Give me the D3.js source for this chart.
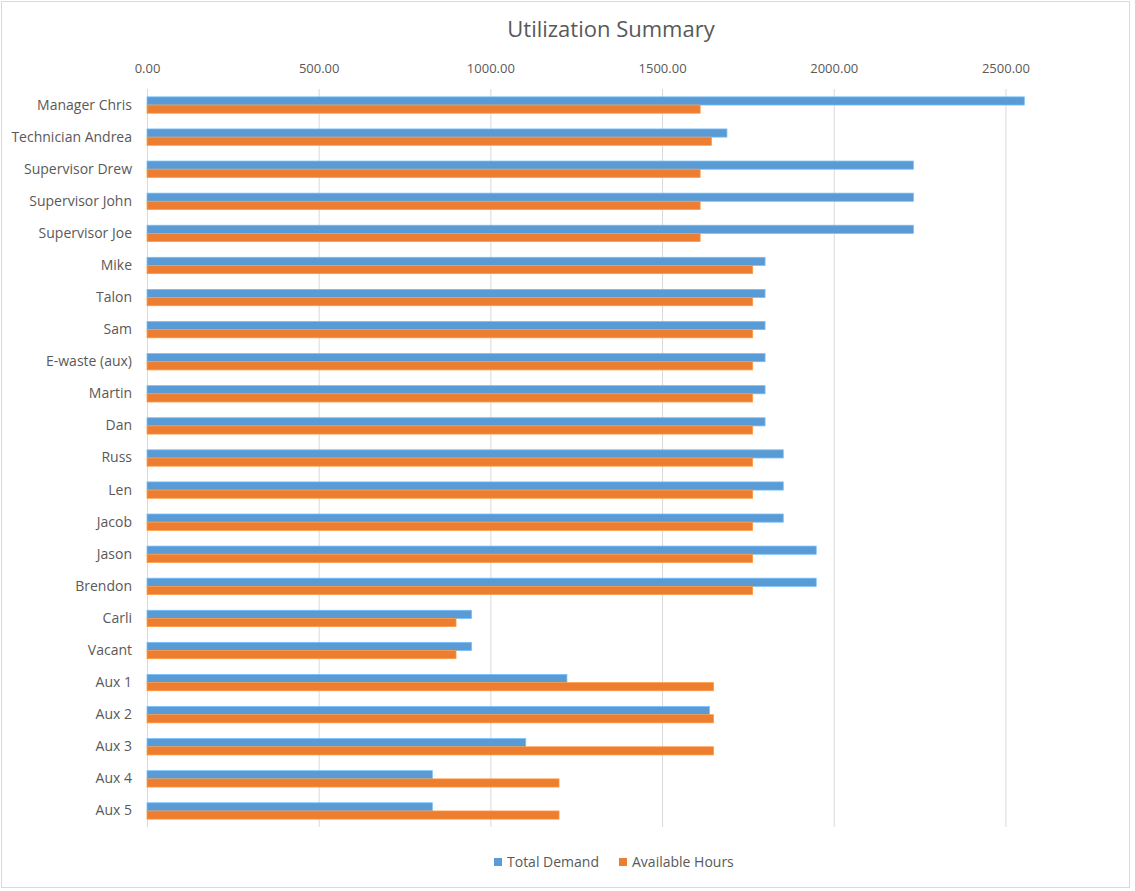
<!DOCTYPE html>
<html>
<head>
	<meta charset="utf-8" />
	<title>Utilization Summary</title>
	<script src="https://cdn.jsdelivr.net/npm/d3@7/dist/d3.min.js"></script>
	<style>
	body { margin: 0; background: #fff; font-family: 'Open Sans', sans-serif; }
	</style>
</head>
<body>
<svg id="chart" width="1135" height="891"></svg>
<script>

var v_Names = ["Manager Chris", "Technician Andrea", "Supervisor Drew", "Supervisor John", "Supervisor Joe",
               "Mike", "Talon", "Sam", "E-waste (aux)", "Martin", "Dan", "Russ", "Len", "Jacob",
               "Jason", "Brendon", "Carli", "Vacant", "Aux 1", "Aux 2", "Aux 3", "Aux 4", "Aux 5"];

var v_TotalDemand    = [2555, 1689, 2232, 2232, 2232, 1800, 1800, 1800, 1800, 1800, 1800, 1853, 1853, 1853,
                        1949, 1949, 945, 945, 1223, 1638, 1103, 831, 831];

var v_AvailableHours = [1611, 1644, 1611, 1611, 1611, 1764, 1764, 1764, 1764, 1764, 1764, 1764, 1764, 1764,
                        1764, 1764, 900, 900, 1650, 1650, 1650, 1200, 1200];

var v_Series = ["Total Demand", "Available Hours"];
var v_Ticks  = [0, 500, 1000, 1500, 2000, 2500];

var v_Colors = { "Total Demand": "#5B9BD5", "Available Hours": "#ED7D31" };

var m = { left: 147, right: 1025, top: 89, bottom: 827 };

var v_SVG = d3.select("#chart");

// 外框
v_SVG.append("rect")
.attr("x", 1.5).attr("y", 1.5)
.attr("width", 1128).attr("height", 886)
.attr("fill", "white")
.attr("stroke", "#D9D9D9");

var x = d3.scaleLinear().domain([0, 2557]).range([m.left, m.right]);

var y = d3.scaleBand().domain(v_Names).range([m.top, m.bottom]).paddingInner(0.49).paddingOuter(0.245);

var y2 = d3.scaleBand().domain(v_Series).range([0, y.bandwidth()]);

// gridlines
v_SVG.append("g").selectAll("line").data(v_Ticks).enter().append("line")
.attr("x1", function(d) { return x(d) + 0.5; })
.attr("x2", function(d) { return x(d) + 0.5; })
.attr("y1", m.top)
.attr("y2", m.bottom)
.attr("stroke", "#D9D9D9")
.attr("stroke-width", 1);

// top axis labels
var v_Axis = v_SVG.append("g")
.attr("transform", "translate(0," + (m.top - 16) + ")")
.call(d3.axisTop(x).tickValues(v_Ticks).tickFormat(d3.format(".2f")).tickSize(0).tickPadding(0));
v_Axis.select(".domain").remove();
v_Axis.selectAll("text")
.attr("font-family", "'Open Sans', sans-serif")
.attr("font-size", "13px")
.attr("fill", "#595959");

// category labels
var v_YAxis = v_SVG.append("g")
.attr("transform", "translate(" + (m.left - 15) + ",0)")
.call(d3.axisLeft(y).tickSize(0).tickPadding(0));
v_YAxis.select(".domain").remove();
v_YAxis.selectAll("text")
.attr("font-family", "'Open Sans', sans-serif")
.attr("font-size", "14px")
.attr("fill", "#595959");

// bars
var v_Rows = v_Names.map(function(n, i)
{
	return { name: n, values: [
		{ series: "Total Demand", value: v_TotalDemand[i] },
		{ series: "Available Hours", value: v_AvailableHours[i] }
	] };
});

v_SVG.append("g").selectAll("g").data(v_Rows).enter().append("g")
.attr("transform", function(d) { return "translate(0," + y(d.name) + ")"; })
.selectAll("rect").data(function(d) { return d.values; }).enter().append("rect")
.attr("x", x(0))
.attr("y", function(d) { return y2(d.series); })
.attr("width", function(d) { return x(d.value) - x(0); })
.attr("height", y2.bandwidth())
.attr("fill", function(d) { return v_Colors[d.series]; })
.attr("stroke", function(d) { return d3.color(v_Colors[d.series]).brighter(0.6); })
.attr("stroke-width", 0.75);

// title
v_SVG.append("text")
.attr("x", 611).attr("y", 37)
.attr("text-anchor", "middle")
.attr("font-family", "'Open Sans', sans-serif")
.attr("font-size", "22px")
.attr("fill", "#595959")
.text("Utilization Summary");

// legend
var v_LegendX = [494, 619];
var v_Legend = v_SVG.append("g").selectAll("g").data(v_Series).enter().append("g")
.attr("transform", function(d, i) { return "translate(" + v_LegendX[i] + ",858)"; });
v_Legend.append("rect")
.attr("width", 8).attr("height", 8)
.attr("fill", function(d) { return v_Colors[d]; });
v_Legend.append("text")
.attr("x", 13).attr("y", 4)
.attr("dy", "0.35em")
.attr("font-family", "'Open Sans', sans-serif")
.attr("font-size", "14px")
.attr("fill", "#595959")
.text(function(d) { return d; });

</script>
</body>
</html>
